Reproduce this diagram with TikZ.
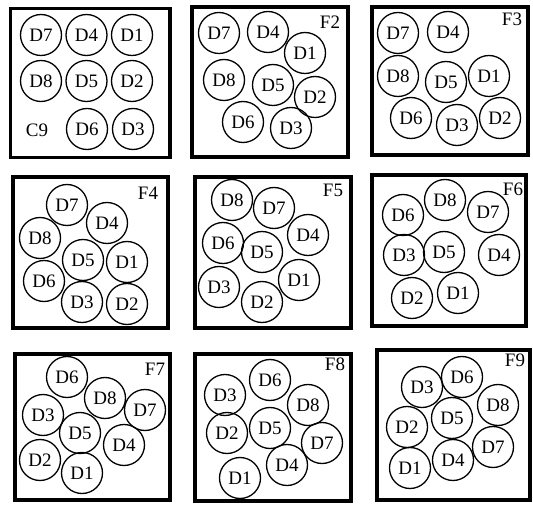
\documentclass[tikz,border=0pt]{standalone}
\usepackage{fontspec}
\setmainfont{Liberation Serif}
\begin{document}
\begin{tikzpicture}[x=1pt, y=-1pt,
    disc/.style={circle, draw, line width=1.3pt, minimum size=41pt, inner sep=0pt, font=\fontsize{19}{19}\selectfont},
    frame/.style={draw, line width=3.5pt},
    tag/.style={inner sep=0pt, font=\fontsize{19}{19}\selectfont}]
    \useasboundingbox (0,0) rectangle (533,505);

    % C9
    \draw[frame] (10.5,8.5) rectangle (170,157.5);
    \foreach \n/\x/\y in {7/41/35, 4/86.5/35, 1/132/35, 8/41/81, 5/86.5/81, 2/132/81, 6/87/129, 3/133/129}
        \node[disc] (c9d\n) at (\x,\y) {D\n};
    \node[tag] (c9) at (37,130) {C9};

    % F2
    \draw[frame] (192,7) rectangle (348,157);
    \foreach \n/\x/\y in {7/219/33, 4/268/32, 1/305/53, 8/224/80, 5/273/85, 2/315/97, 6/243/122, 3/291/128}
        \node[disc] (f2d\n) at (\x,\y) {D\n};
    \node[tag] (f2) at (330,22) {F2};

    % F3
    \draw[frame] (372,7) rectangle (528,155);
    \foreach \n/\x/\y in {7/398/33, 4/448/32, 8/398/76, 5/446/82, 1/489/76, 6/411/118, 3/457/125, 2/500/118}
        \node[disc] (f3d\n) at (\x,\y) {D\n};
    \node[tag] (f3) at (512,19) {F3};

    % F4
    \draw[frame] (13,177) rectangle (168,328);
    \foreach \n/\x/\y in {7/67/205, 4/107/223, 8/40/238, 5/83/260, 1/127/262, 6/44/281, 3/82/302, 2/127/304}
        \node[disc] (f4d\n) at (\x,\y) {D\n};
    \node[tag] (f4) at (148,193) {F4};

    % F5
    \draw[frame] (195,177) rectangle (351,328);
    \foreach \n/\x/\y in {8/232/200, 7/274/208, 4/308/235, 6/223/243, 5/262/252, 1/299/280, 3/219/287, 2/262/302}
        \node[disc] (f5d\n) at (\x,\y) {D\n};
    \node[tag] (f5) at (333,190) {F5};

    % F6
    \draw[frame] (372,175) rectangle (526,326);
    \foreach \n/\x/\y in {6/403/215, 8/445/200, 7/488/212, 3/404/255, 5/444/252, 4/499/255, 2/412/298, 1/458/293}
        \node[disc] (f6d\n) at (\x,\y) {D\n};
    \node[tag] (f6) at (513,189) {F6};

    % F7
    \draw[frame] (15,354) rectangle (170,500);
    \foreach \n/\x/\y in {6/67/377, 8/105/398, 7/145/410, 3/43/415, 5/80/433, 4/124/445, 2/40/460, 1/82/473}
        \node[disc] (f7d\n) at (\x,\y) {D\n};
    \node[tag] (f7) at (155,369) {F7};

    % F8
    \draw[frame] (195,354) rectangle (351,501);
    \foreach \n/\x/\y in {3/225/395, 6/270/380, 8/308/405, 2/227/433, 5/270/428, 7/322/443, 4/287/465, 1/240/478}
        \node[disc] (f8d\n) at (\x,\y) {D\n};
    \node[tag] (f8) at (335,364) {F8};

    % F9
    \draw[frame] (377,350) rectangle (530,500);
    \foreach \n/\x/\y in {3/422/387, 6/462/377, 8/498/405, 2/407/427, 5/452/418, 7/493/447, 4/453/460, 1/410/468}
        \node[disc] (f9d\n) at (\x,\y) {D\n};
    \node[tag] (f9) at (515,360) {F9};
\end{tikzpicture}
\end{document}
